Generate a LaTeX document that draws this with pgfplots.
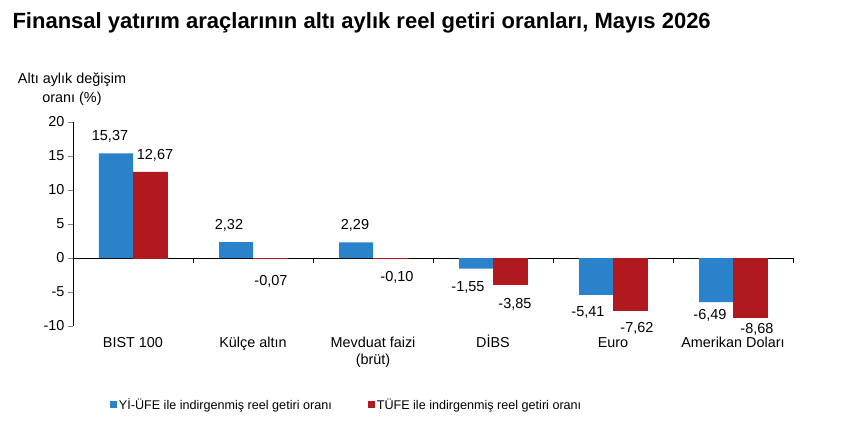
\documentclass[border=0pt]{standalone}
\usepackage{pgfplots}
\pgfplotsset{compat=1.18}
\usepackage{fontspec}
\setmainfont{Liberation Sans}
\definecolor{cblue}{RGB}{42,130,202}
\definecolor{cred}{RGB}{176,26,30}
\begin{document}
\begin{tikzpicture}[x=1pt,y=1pt]
\path[use as bounding box] (0,0) rectangle (865,-438);
\node[anchor=west,font=\fontsize{22}{24}\selectfont\bfseries] at (9,-23) {Finansal yatırım araçlarının altı aylık reel getiri oranları, Mayıs 2026};
\node[align=center,font=\fontsize{14.4}{19}\selectfont] at (72,-89) {Altı aylık değişim\\oranı (\%)};
\begin{axis}[
  at={(73pt,-326pt)}, anchor=south west,
  scale only axis, width=720pt, height=204pt,
  xmin=-0.5, xmax=5.5, ymin=-10, ymax=20,
  ybar=0pt, bar width=34pt,
  clip=false,
  axis lines*=left,
  x axis line style={draw=none},
  xtick=data,
  xtick style={draw=none},
  xticklabels={BIST 100,Külçe altın,{Mevduat faizi\\(brüt)},{D\smash{İ}BS},Euro,Amerikan Doları},
  xticklabel style={font=\fontsize{14.4}{16.5}\selectfont,align=center,yshift=-3pt},
  ytick={-10,-5,0,5,10,15,20},
  yticklabels={-10,-5,0,5,10,15,20},
  yticklabel style={font=\fontsize{14.4}{16}\selectfont},
  y axis line style={line width=0.9pt},
  ytick style={line width=0.9pt},
  tick align=outside, major tick length=5pt,
  /pgf/number format/assume math mode=true,
  visualization depends on={\thisrow{xs} \as \lxs},
  visualization depends on={\thisrow{ys} \as \lys},
  nodes near coords={\pgfmathprintnumber[fixed,fixed zerofill,precision=2,use comma,assume math mode=true]{\pgfplotspointmeta}},
  nodes near coords align={anchor=center},
  every node near coord/.append style={font=\fontsize{14.5}{16}\selectfont,inner sep=0pt,black,anchor=center,xshift=\lxs pt,yshift=\lys pt},
  legend columns=2,
  legend style={draw=none,at={(0.380,-0.387)},anchor=center,font=\fontsize{12.6}{14}\selectfont,
    /tikz/every even column/.append style={column sep=34pt}},
  legend image code/.code={\fill[#1,draw=none] (0pt,-3.5pt) rectangle (7pt,3.5pt);},
]
\draw[line width=0.9pt] (axis cs:-0.5,0) -- (axis cs:5.5,0);
\pgfplotsinvokeforeach{0.5,1.5,2.5,3.5,4.5,5.5}{\draw[line width=0.9pt] (axis cs:#1,0) -- (axis cs:#1,-0.75);}
\addplot[fill=cblue,draw=none] table[x=x,y=y,meta=y] {
x y xs ys
0 15.37 -6 17
1 2.32 -7 17
2 2.29 -1 17
3 -1.55 -8 -19
4 -5.41 -8 -18
5 -6.49 -6 -13.5
};
\addlegendentry{Yİ-ÜFE ile indirgenmiş reel getiri oranı}
\addplot[fill=cred,draw=cred,line width=0.6pt] table[x=x,y=y,meta=y] {
x y xs ys
0 12.67 5 16.7
1 -0.07 1 -23
2 -0.10 7 -18.5
3 -3.85 5 -20.5
4 -7.62 7 -19
5 -8.68 7 -12.3
};
\addlegendentry{TÜFE ile indirgenmiş reel getiri oranı}
\end{axis}
\end{tikzpicture}
\end{document}
